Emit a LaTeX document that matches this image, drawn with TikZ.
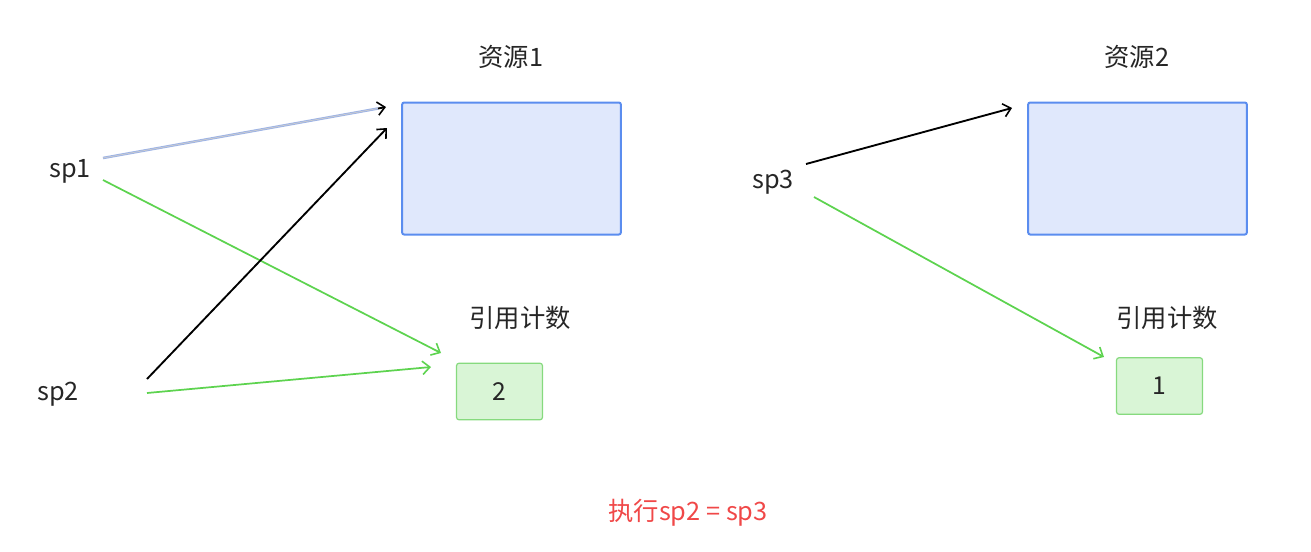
\documentclass[tikz,border=0pt]{standalone}
\usepackage{fontspec}
\setmainfont{Noto Sans CJK SC}
\usetikzlibrary{arrows.meta}
\definecolor{resfill}{HTML}{E0E8FC}
\definecolor{resdraw}{HTML}{5B8DEF}
\definecolor{cntfill}{HTML}{D9F5D6}
\definecolor{cntdraw}{HTML}{86DA7E}
\definecolor{gline}{HTML}{5DD34F}
\definecolor{redtxt}{HTML}{F04848}
\definecolor{txt}{HTML}{262626}
\definecolor{dline}{HTML}{9DB3E6}
\tikzset{
  res/.style={draw=resdraw, fill=resfill, line width=1.5pt, rounded corners=1.5pt, minimum width=164pt, minimum height=99pt, inner sep=0pt},
  cnt/.style={draw=cntdraw, fill=cntfill, line width=0.9pt, rounded corners=2pt, minimum width=64.5pt, minimum height=42.5pt, inner sep=0pt, text=txt, font=\fontsize{18.5}{22}\selectfont},
  lbl/.style={text=txt, font=\fontsize{19}{22}\selectfont, inner sep=0pt},
  tip/.style={-{Straight Barb[length=5.5pt, width=10pt, line width=1.2pt]}},
  blk/.style={tip, draw=black, line width=1.4pt},
  grn/.style={tip, draw=gline, line width=1.3pt},
  dbl/.style={draw=dline, double=gray!40, double distance=0.5pt, line width=0.7pt},
}
\begin{document}
\begin{tikzpicture}[x=0.75pt, y=-0.75pt]
\useasboundingbox (0,0) rectangle (1311,551);
% resources
\node[res] (r1) at (511.5,168.5) {};
\node[res] (r2) at (1137.5,168.5) {};
\node[lbl] (r1l) at (511,57) {资源1};
\node[lbl] (r2l) at (1137,57) {资源2};
% counters
\node[cnt] (c1) at (499.5,391.5) {2};
\node[cnt] (c2) at (1159.5,386) {1};
\node[lbl] (c1l) at (520,318) {引用计数};
\node[lbl] (c2l) at (1167,318) {引用计数};
% pointers
\node[lbl] (sp1) at (70,171) {sp1};
\node[lbl] (sp2) at (58,394) {sp2};
\node[lbl] (sp3) at (773,182) {sp3};
\node[lbl, text=redtxt] (cmd) at (688,513) {执行sp2 = sp3};
% anchor coordinates
\coordinate (a1s) at (103,158);
\coordinate (a1e) at (386,107);
\coordinate (a1m) at (378,108.5);
\coordinate (g1s) at (103,180);
\coordinate (g1e) at (441,353);
\coordinate (b2s) at (147,379);
\coordinate (b2e) at (387,128);
\coordinate (g2s) at (147,393);
\coordinate (g2e) at (431,367);
\coordinate (b3s) at (806,164);
\coordinate (b3e) at (1012,108);
\coordinate (g3s) at (814,197);
\coordinate (g3e) at (1104,357);
% connectors
\draw[dbl] (a1s) -- (a1m);
\draw[blk] (a1m) -- (a1e);
\draw[grn] (g1s) -- (g1e);
\draw[blk] (b2s) -- (b2e);
\draw[grn] (g2s) -- (g2e);
\draw[blk] (b3s) -- (b3e);
\draw[grn] (g3s) -- (g3e);
\end{tikzpicture}
\end{document}
